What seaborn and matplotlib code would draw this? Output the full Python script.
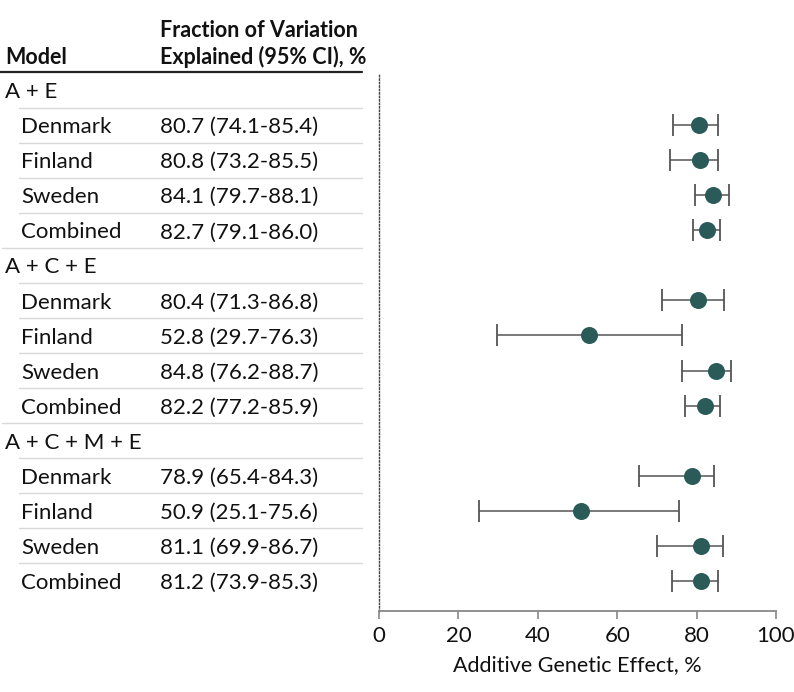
import matplotlib
matplotlib.use("Agg")
import matplotlib.pyplot as plt
import matplotlib.transforms as mtransforms
import seaborn as sns
import pandas as pd
import numpy as np

sns.set_style("white")
plt.rcParams['font.family'] = ['Lato', 'DejaVu Sans']

groups = ["A + E", "A + C + E", "A + C + M + E"]
countries = ["Denmark", "Finland", "Sweden", "Combined"]
estimates = {
    "A + E": [80.7, 80.8, 84.1, 82.7],
    "A + C + E": [80.4, 52.8, 84.8, 82.2],
    "A + C + M + E": [78.9, 50.9, 81.1, 81.2],
}
lower = {
    "A + E": [74.1, 73.2, 79.7, 79.1],
    "A + C + E": [71.3, 29.7, 76.2, 77.2],
    "A + C + M + E": [65.4, 25.1, 69.9, 73.9],
}
upper = {
    "A + E": [85.4, 85.5, 88.1, 86.0],
    "A + C + E": [86.8, 76.3, 88.7, 85.9],
    "A + C + M + E": [84.3, 75.6, 86.7, 85.3],
}
xticks = [0, 20, 40, 60, 80, 100]
xlabel = "Additive Genetic Effect, %"
col1_title = "Model"
col2_title = "Fraction of Variation\nExplained (95% CI), %"

# build rows
rows = []
r = 0
for g in groups:
    rows.append(dict(row=r, label=g, kind="group", est=np.nan, lo=np.nan, hi=np.nan))
    r += 1
    for i, c in enumerate(countries):
        rows.append(dict(row=r, label=c, kind="item", est=estimates[g][i],
                         lo=lower[g][i], hi=upper[g][i]))
        r += 1
df = pd.DataFrame(rows)
nrows = len(df)

W, H = 794, 692
fig = plt.figure(figsize=(W / 100, H / 100), dpi=100)
row0_px, step_px = 90.0, 35.07
top_px, bot_px = 73.0, 611.0
ytop = (top_px - row0_px) / step_px
ybot = (bot_px - row0_px) / step_px
ax = fig.add_axes([379 / W, 1 - bot_px / H, (776 - 379) / W, (bot_px - top_px) / H])
ax.set_xlim(0, 100)
ax.set_ylim(ybot, ytop)

pts = df[df.kind == "item"]
ax.errorbar(pts.est, pts.row, xerr=[pts.est - pts.lo, pts.hi - pts.est],
            fmt="none", ecolor="#555555", elinewidth=1.1, capsize=8, capthick=1.3, zorder=2)
sns.scatterplot(data=pts, x="est", y="row", ax=ax, s=150, color="#2a5b58",
                edgecolor="#2a5b58", linewidth=0, zorder=3, legend=False)

for s in ["top", "right"]:
    ax.spines[s].set_visible(False)
ax.spines["left"].set_linestyle((0, (1, 1.5)))
ax.spines["left"].set_color("#444444")
ax.spines["left"].set_linewidth(1.0)
ax.spines["bottom"].set_color("#888888")
ax.spines["bottom"].set_linewidth(1.3)
ax.set_yticks([])
ax.set_xticks(xticks)
ax.tick_params(axis="x", direction="out", length=6, width=1.2, color="#888888",
               labelsize=16, pad=5, bottom=True, labelcolor="#111111")
ax.set_xlabel(xlabel, fontsize=15.5, labelpad=6, color="#111111")
ax.set_ylabel("")

tr = mtransforms.blended_transform_factory(fig.transFigure, ax.transData)
fs = 16
tc = "#111111"
dy = 0.06
for _, rw in df.iterrows():
    if rw.kind == "group":
        ax.text(5 / W, rw.row + dy, rw.label, transform=tr, fontsize=fs, va="center", ha="left",
                clip_on=False, color=tc)
    else:
        ax.text(21 / W, rw.row + dy, rw.label, transform=tr, fontsize=fs, va="center", ha="left",
                clip_on=False, color=tc)
        ax.text(160 / W, rw.row + dy, f"{rw.est:.1f} ({rw.lo:.1f}-{rw.hi:.1f})", transform=tr,
                fontsize=fs, va="center", ha="left", clip_on=False, color=tc)

# separators
for i in range(nrows - 1):
    y = i + 0.5
    nxt = df.iloc[i + 1]
    x0 = 2 / W if nxt.kind == "group" else 19 / W
    ax.plot([x0, 362 / W], [y, y], transform=tr, color="#d9d9d9", lw=1.0, clip_on=False)

# header
fig.text(5 / W, 1 - 64 / H, col1_title, fontsize=15.5, fontweight="bold", ha="left", va="baseline",
         color=tc)
fig.text(160 / W, 1 - 64 / H, col2_title, fontsize=15.5, fontweight="bold", ha="left", va="baseline",
         linespacing=1.25, color=tc)
fig.add_artist(plt.Line2D([0, 362 / W], [1 - 72 / H, 1 - 72 / H], color="#222222", lw=1.6))

fig.savefig("out.png", dpi=100)
